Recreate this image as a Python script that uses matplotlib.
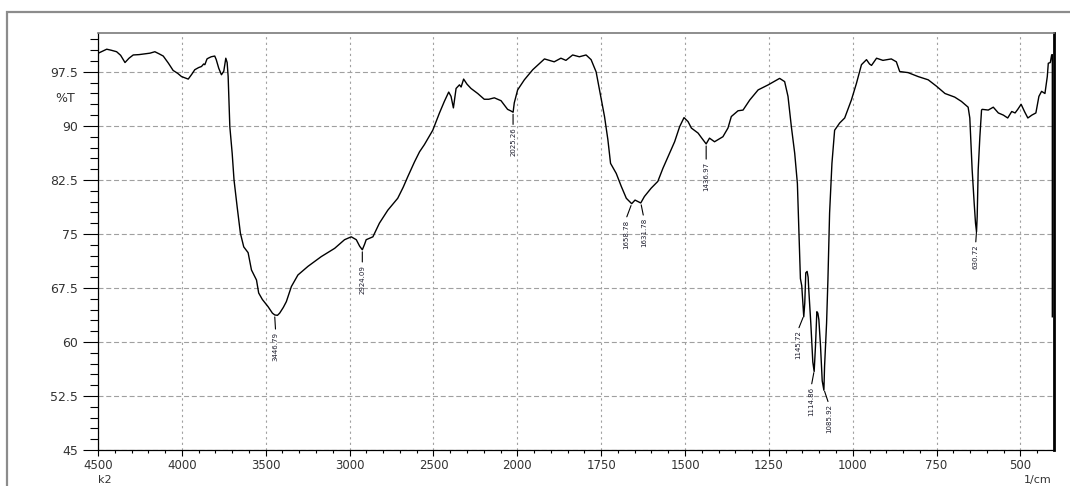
import numpy as np
import matplotlib
matplotlib.use("Agg")
import matplotlib.pyplot as plt
from matplotlib.patches import Rectangle
from matplotlib.ticker import FixedLocator, FuncFormatter

# IR spectrum (wavenumber 1/cm, %T)
wavenumber = [
    4498, 4470, 4448, 4420, 4389, 4365, 4339, 4315, 4290, 4255, 4220, 4190, 4161, 4135, 4111,
    4080, 4052, 4025, 4002, 3962, 3940, 3923, 3900, 3883, 3870, 3863, 3850, 3843, 3825, 3804,
    3795, 3780, 3764, 3750, 3738, 3730, 3724, 3714, 3700, 3689, 3670, 3651, 3631, 3605, 3585,
    3555, 3542, 3520, 3486, 3460, 3446, 3430, 3417, 3395, 3377, 3347, 3308, 3248, 3169, 3089,
    3030, 2990, 2960, 2940, 2924, 2910, 2901, 2861, 2822, 2772, 2713, 2680, 2653, 2613, 2583,
    2554, 2504, 2464, 2435, 2409, 2395, 2381, 2365, 2345, 2335, 2320, 2300, 2276, 2236, 2197,
    2170, 2137, 2097, 2058, 2040, 2025, 2018, 1999, 1979, 1954, 1919, 1890, 1870, 1855, 1835,
    1815, 1795, 1780, 1765, 1755, 1740, 1730, 1722, 1705, 1690, 1675, 1659, 1649, 1632, 1621,
    1601, 1581, 1566, 1546, 1531, 1516, 1503, 1491, 1481, 1461, 1450, 1437, 1427, 1412, 1387,
    1372, 1362, 1342, 1327, 1307, 1282, 1252, 1218, 1203, 1193, 1183, 1173, 1165, 1160, 1156,
    1152, 1146, 1143, 1140, 1136, 1133, 1131, 1125, 1119, 1115, 1111, 1107, 1104, 1101, 1096,
    1091, 1086, 1084, 1078, 1074, 1069, 1062, 1054, 1039, 1024, 1004, 989, 974, 959, 950,
    944, 929, 910, 885, 870, 860, 835, 805, 775, 750, 725, 696, 676, 656, 651,
    644, 638, 634, 631, 629, 626, 621, 616, 614, 596, 581, 566, 551, 538, 526,
    516, 508, 498, 488, 478, 466, 454, 445, 437, 427, 420, 417, 411, 407, 405, 405,
]
transmittance = [
    100.1, 100.4, 100.65, 100.5, 100.3, 99.8, 98.8, 99.4, 99.85, 99.9, 100.0, 100.1, 100.3, 100.0, 99.7,
    98.7, 97.7, 97.3, 96.85, 96.5, 97.2, 97.8, 98.1, 98.25, 98.6, 98.5, 99.3, 99.4, 99.6, 99.7,
    99.2, 98.0, 97.1, 97.6, 99.4, 98.8, 96.85, 89.9, 86.2, 82.5, 78.7, 75.1, 73.2, 72.4, 70.0,
    68.6, 66.8, 65.9, 64.9, 64.0, 63.75, 63.7, 64.0, 64.8, 65.6, 67.7, 69.3, 70.5, 71.85, 73.0,
    74.2, 74.6, 74.2, 73.3, 72.8, 73.6, 74.2, 74.6, 76.5, 78.3, 79.95, 81.5, 82.95, 85.0, 86.4,
    87.4, 89.4, 91.8, 93.4, 94.7, 94.1, 92.5, 95.2, 95.7, 95.4, 96.5, 95.8, 95.2, 94.5, 93.7,
    93.7, 93.9, 93.5, 92.3, 92.1, 91.9, 93.2, 95.0, 96.4, 97.8, 99.3, 98.9, 99.4, 99.1, 99.85,
    99.6, 99.85, 99.2, 97.5, 95.0, 91.3, 88.1, 84.8, 83.4, 81.6, 79.95, 79.2, 79.7, 79.3, 80.2,
    81.35, 82.3, 84.1, 86.2, 87.8, 89.9, 91.15, 90.6, 89.7, 89.0, 88.3, 87.5, 88.3, 87.8, 88.5,
    89.7, 91.3, 92.1, 92.2, 93.6, 95.0, 95.7, 96.6, 96.15, 94.1, 89.9, 86.2, 82.0, 74.6, 68.8,
    67.8, 63.5, 65.4, 69.6, 69.8, 69.0, 67.2, 62.6, 57.2, 55.9, 59.5, 64.2, 64.0, 63.1, 59.4,
    54.6, 53.3, 56.6, 62.6, 68.6, 77.9, 84.8, 89.4, 90.4, 91.1, 93.6, 95.9, 98.5, 99.2, 98.6,
    98.4, 99.4, 99.1, 99.3, 98.9, 97.55, 97.4, 96.85, 96.4, 95.5, 94.5, 94.0, 93.4, 92.6, 91.1,
    83.9, 79.3, 76.5, 75.3, 77.4, 83.9, 88.5, 92.2, 92.3, 92.2, 92.6, 91.8, 91.5, 91.1, 92.0,
    91.8, 92.3, 93.0, 92.0, 91.1, 91.5, 91.8, 94.1, 94.8, 94.5, 96.85, 98.7, 98.8, 99.85, 99.9, 63.5,
]

peak_wn = [3446.79, 2924.09, 2025.26, 1658.78, 1631.78, 1436.97, 1145.72, 1114.86, 1085.92, 630.72]
peak_text = ["3446.79", "2924.09", "2025.26", "1658.78", "1631.78",
             "1436.97", "1145.72", "1114.86", "1085.92", "630.72"]
# label offsets from the peak, in pixels
label_offsets = [(1, -17), (0, -15), (0, -15), (-6, -16), (3, -15),
                 (0, -18), (-6, -15), (-3, -16), (5, -15), (-1, -15)]

x_ticks = [4500, 4000, 3500, 3000, 2500, 2000, 1750, 1500, 1250, 1000, 750, 500]
y_ticks = [45, 52.5, 60, 67.5, 75, 82.5, 90, 97.5]


# usual IR layout: scale doubles below 2000 1/cm
def fwd(x):
    x = np.asarray(x, dtype=float)
    return np.where(x >= 2000, 2000 + (x - 2000) / 2, x)


def inv(y):
    y = np.asarray(y, dtype=float)
    return np.where(y >= 2000, 2000 + (y - 2000) * 2, y)


W, H = 1070, 486
fig = plt.figure(figsize=(W / 100, H / 100), dpi=100)
ax = fig.add_axes([98 / W, 1 - 450 / H, (1054 - 98) / W, (450 - 33) / H])

# outer window frame
fig.patches.append(Rectangle((7 / W, -0.1), 1.2, (H - 12) / H + 0.1, transform=fig.transFigure,
                             fill=False, edgecolor="#8c8c8c", lw=1.6))

ax.plot(wavenumber, transmittance, color="black", lw=1.0, zorder=3)

ax.set_xscale("function", functions=(fwd, inv))
ax.set_xlim(4500, 400)
ax.set_ylim(45, 102.9)

minor_x = list(range(4400, 2000, -100)) + list(range(1950, 400, -50))
ax.xaxis.set_major_locator(FixedLocator(x_ticks))
ax.xaxis.set_minor_locator(FixedLocator(minor_x))
ax.yaxis.set_major_locator(FixedLocator(y_ticks))
ax.yaxis.set_minor_locator(FixedLocator(np.arange(45, 103, 1.5)))
ax.xaxis.set_major_formatter(FuncFormatter(lambda v, p: f"{v:g}"))
ax.yaxis.set_major_formatter(FuncFormatter(lambda v, p: f"{v:g}"))

ax.tick_params(axis="y", which="major", length=11, width=0.8, pad=3.5, labelsize=9, labelcolor="#333333")
ax.tick_params(axis="y", which="minor", length=5.8, width=0.8)
ax.tick_params(axis="x", which="major", length=4.5, width=0.8, pad=2, labelsize=8.5, labelcolor="#333333")
ax.tick_params(axis="x", which="minor", length=2.3, width=0.8)

ax.yaxis.grid(True, which="major", linestyle=(0, (4.5, 2.5)), color="#a0a0a0", lw=0.8)
ax.xaxis.grid(True, which="major", linestyle=(0, (2, 3)), color="#a0a0a0", lw=0.8)

ax.spines["top"].set_color("#7a7a7a")
ax.spines["top"].set_linewidth(1.2)
ax.spines["right"].set_linewidth(2.0)
ax.spines["left"].set_linewidth(0.9)
ax.spines["bottom"].set_linewidth(0.9)

peak_t = np.interp(peak_wn, wavenumber[::-1], transmittance[::-1])
for w, t, s, (dx, dy) in zip(peak_wn, peak_t, peak_text, label_offsets):
    ax.annotate(s, xy=(w, t), xytext=(dx, dy), textcoords="offset pixels",
                rotation=90, ha="center", va="top", fontsize=5, color="#1c1c2c",
                arrowprops=dict(arrowstyle="-", lw=0.8, color="black",
                                shrinkA=0, shrinkB=1.5, relpos=(0.5, 1.0)))

fig.text(65 / W, 1 - 99 / H, "%T", ha="center", va="center", fontsize=9, color="#333333")
fig.text(98 / W, 1 - 480 / H, "k2", ha="left", va="center", fontsize=8, color="#333333")
fig.text(1052 / W, 1 - 480 / H, "1/cm", ha="right", va="center", fontsize=8, color="#333333")

fig.savefig("out.png", dpi=100)
